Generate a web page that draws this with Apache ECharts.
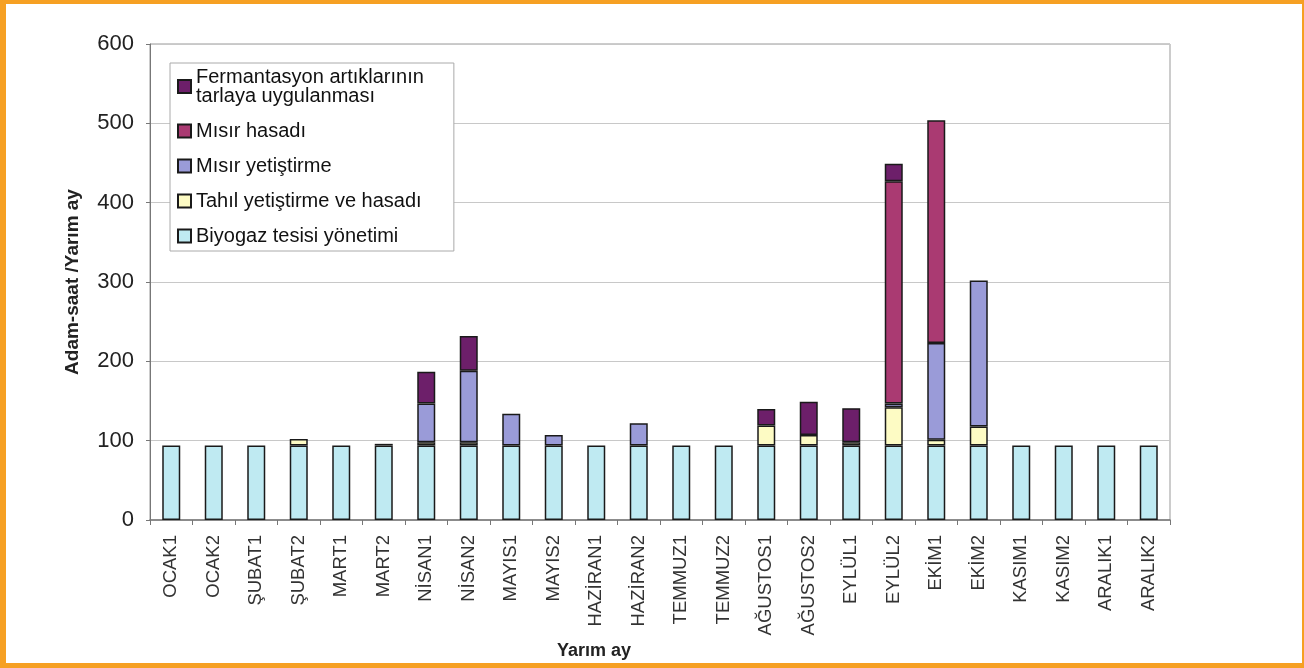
<!DOCTYPE html>
<html>
<head>
<meta charset="utf-8">
<script src="https://cdn.jsdelivr.net/npm/echarts@6/dist/echarts.min.js"></script>
<style>
  html, body { margin: 0; padding: 0; background: #fff; }
  #chart { width: 1304px; height: 668px; }
</style>
</head>
<body>
<div id="chart"></div>
<script>
  var categories = ['OCAK1', 'OCAK2', 'ŞUBAT1', 'ŞUBAT2', 'MART1', 'MART2', 'NİSAN1', 'NİSAN2',
    'MAYIS1', 'MAYIS2', 'HAZİRAN1', 'HAZİRAN2', 'TEMMUZ1', 'TEMMUZ2', 'AĞUSTOS1', 'AĞUSTOS2',
    'EYLÜL1', 'EYLÜL2', 'EKİM1', 'EKİM2', 'KASIM1', 'KASIM2', 'ARALIK1', 'ARALIK2']
  var yTicks = [0, 100, 200, 300, 400, 500, 600]

  // adam-saat / yarım ay, alttan üste
  var biyogaz = [94, 94, 94, 94, 94, 94, 94, 94, 94, 94, 94, 94, 94, 94, 94, 94, 94, 94, 94, 94, 94, 94, 94, 94]
  var tahil = [0, 0, 0, 8, 0, 2, 4, 4, 0, 0, 0, 0, 0, 0, 25, 13, 4, 48, 7, 24, 0, 0, 0, 0]
  var misirYetistirme = [0, 0, 0, 0, 0, 0, 49, 90, 40, 13, 0, 28, 0, 0, 0, 0, 0, 5, 122, 184, 0, 0, 0, 0]
  var misirHasadi = [0, 0, 0, 0, 0, 0, 0, 0, 0, 0, 0, 0, 0, 0, 0, 0, 0, 280, 281, 0, 0, 0, 0, 0]
  var fermantasyon = [0, 0, 0, 0, 0, 0, 40, 44, 0, 0, 0, 0, 0, 0, 21, 42, 43, 22, 0, 0, 0, 0, 0, 0]

  var font = 'Liberation Sans, Arial, sans-serif'
  var orange = '#f6a023'

  function bar (name, data, color) {
    return {
      name: name,
      type: 'bar',
      stack: 'toplam',
      barWidth: 18,
      data: data.map(function (v) { return v === 0 ? '-' : v }),
      itemStyle: { color: color, borderColor: '#1a1a1a', borderWidth: 1.5 }
    }
  }

  var chart = echarts.init(document.getElementById('chart'))
  var option = {
    backgroundColor: '#fff',
    animation: false,
    textStyle: { fontFamily: font },
    grid: { left: 150, top: 44, right: 134, bottom: 148, show: true, borderColor: '#999', borderWidth: 1 },
    legend: {
      orient: 'vertical',
      left: 170,
      top: 63,
      padding: [4, 30, 5, 7],
      itemGap: 15,
      itemWidth: 13,
      itemHeight: 13,
      icon: 'rect',
      backgroundColor: '#fff',
      borderColor: '#aaa',
      borderWidth: 1,
      textStyle: { fontSize: 20, lineHeight: 19, color: '#111', fontFamily: font },
      data: ['Fermantasyon artıklarının\ntarlaya uygulanması', 'Mısır hasadı', 'Mısır yetiştirme',
        'Tahıl yetiştirme ve hasadı', 'Biyogaz tesisi yönetimi']
    },
    xAxis: {
      type: 'category',
      data: categories,
      axisLine: { lineStyle: { color: '#777', width: 1.5 } },
      axisTick: { show: true, length: 5, lineStyle: { color: '#777' } },
      axisLabel: { rotate: 90, fontSize: 18.5, color: '#333', margin: 15, interval: 0 }
    },
    yAxis: {
      type: 'value',
      min: yTicks[0],
      max: yTicks[yTicks.length - 1],
      interval: 100,
      name: 'Adam-saat /Yarım ay',
      nameLocation: 'middle',
      nameGap: 68,
      nameTextStyle: { fontSize: 19, fontWeight: 'bold', color: '#222' },
      axisLine: { show: true, lineStyle: { color: '#777' } },
      axisTick: { show: true, length: 4, lineStyle: { color: '#777' } },
      axisLabel: { fontSize: 22, color: '#222', margin: 16 },
      splitLine: { show: true, lineStyle: { color: '#c8c8c8' } }
    },
    graphic: [
      { type: 'text', left: 557, top: 642, style: { text: 'Yarım ay', font: 'bold 18px ' + font, fill: '#222' } },
      { type: 'rect', left: 0, top: 0, shape: { width: 1304, height: 4 }, style: { fill: orange } },
      { type: 'rect', left: 0, top: 663, shape: { width: 1304, height: 5 }, style: { fill: orange } },
      { type: 'rect', left: 0, top: 0, shape: { width: 6, height: 668 }, style: { fill: orange } },
      { type: 'rect', left: 1302, top: 0, shape: { width: 2, height: 668 }, style: { fill: orange } }
    ],
    series: [
      bar('Biyogaz tesisi yönetimi', biyogaz, '#bfeaf2'),
      bar('Tahıl yetiştirme ve hasadı', tahil, '#fdfbc4'),
      bar('Mısır yetiştirme', misirYetistirme, '#9a9bd8'),
      bar('Mısır hasadı', misirHasadi, '#aa3a72'),
      bar('Fermantasyon artıklarının\ntarlaya uygulanması', fermantasyon, '#6d1f6a')
    ]
  }
  chart.setOption(option)
  window.onresize = function () {
    chart.resize()
  }
</script>
</body>
</html>
